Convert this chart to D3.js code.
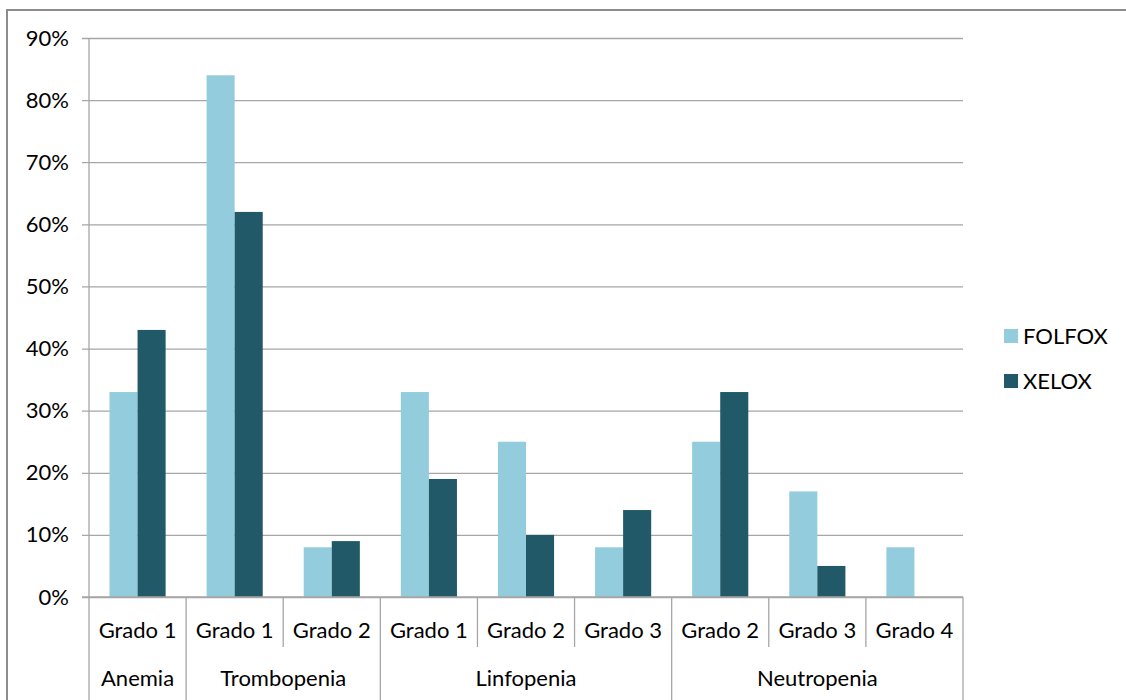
<!DOCTYPE html>
<html>
<head>
<meta charset="utf-8">
<script src="https://cdn.jsdelivr.net/npm/d3@7"></script>
<style>
  body { margin: 0; background: #fff; }
  text { font-family: Lato, "Noto Sans", sans-serif; fill: #000; }
</style>
</head>
<body>
<script>
var svgWidth = 1126; // ancho total
var svgHeight = 700; // alto total

// Datos
var grupos = ["Anemia", "Trombopenia", "Linfopenia", "Neutropenia"];
var grados = ["Grado 1", "Grado 1", "Grado 2", "Grado 1", "Grado 2", "Grado 3", "Grado 2", "Grado 3", "Grado 4"];
var grupoDeGrado = [0, 1, 1, 2, 2, 2, 3, 3, 3];
var series = ["FOLFOX", "XELOX"];
var folfox = [33, 84, 8, 33, 25, 8, 25, 17, 8];
var xelox = [43, 62, 9, 19, 10, 14, 33, 5, 0];
var yTicks = [0, 10, 20, 30, 40, 50, 60, 70, 80, 90];
var colores = ["#93CDDD", "#215968"];

var margin = { top: 38, left: 89, right: 163, bottom: 103 };
var width = svgWidth - margin.left - margin.right;
var height = svgHeight - margin.top - margin.bottom;

var svg = d3.select("body")
  .append("svg")
  .attr("width", svgWidth)
  .attr("height", svgHeight);

// marco exterior
svg.append("rect")
  .attr("x", 7).attr("y", 10)
  .attr("width", 1200).attr("height", 800)
  .attr("fill", "none")
  .attr("stroke", "#8c8c8c")
  .attr("stroke-width", 2);

var g = svg.append("g")
  .attr("transform", "translate(" + margin.left + "," + margin.top + ")");

// Escalas
var x0 = d3.scaleBand()
  .domain(d3.range(grados.length))
  .range([0, width]);

var x1 = d3.scaleBand()
  .domain(series)
  .range([0, x0.bandwidth()])
  .paddingOuter(0.73);

var y = d3.scaleLinear()
  .domain([0, 90])
  .range([height, 0]);

// Rejilla y eje y
var yAxis = g.append("g")
  .call(d3.axisLeft(y)
    .tickValues(yTicks)
    .tickSize(-width - 0)
    .tickFormat(function(d) { return d + "%"; }));
yAxis.select(".domain").remove();
yAxis.selectAll(".tick line")
  .attr("x1", -7)
  .attr("stroke", "#a6a6a6")
  .attr("stroke-width", 1.3);
yAxis.selectAll(".tick text")
  .attr("x", -20)
  .style("font-family", "Lato, sans-serif")
  .style("font-size", "22px")
  .attr("fill", "#000");

// Barras
var datos = grados.map(function(d, i) {
  return { i: i, valores: [folfox[i], xelox[i]] };
});

var cat = g.selectAll(".cat")
  .data(datos)
  .enter().append("g")
  .attr("transform", function(d) { return "translate(" + x0(d.i) + ",0)"; });

cat.selectAll("rect")
  .data(function(d) { return d.valores.map(function(v, k) { return { s: series[k], v: v, k: k }; }); })
  .enter().append("rect")
  .filter(function(d) { return d.v > 0; })
  .attr("x", function(d) { return x1(d.s); })
  .attr("y", function(d) { return y(d.v); })
  .attr("width", x1.bandwidth())
  .attr("height", function(d) { return height - y(d.v); })
  .attr("fill", function(d) { return colores[d.k]; });

// Eje y (linea vertical)
g.append("line")
  .attr("x1", 0).attr("x2", 0)
  .attr("y1", 0).attr("y2", height)
  .attr("stroke", "#a6a6a6").attr("stroke-width", 1.3);

// Eje x jerarquico
var xa = g.append("g").attr("transform", "translate(0," + height + ")");
xa.append("line")
  .attr("x1", -7).attr("x2", width)
  .attr("stroke", "#a6a6a6").attr("stroke-width", 1.3);

// separadores
d3.range(grados.length + 1).forEach(function(i) {
  var largo = (i === 0 || i === grados.length || grupoDeGrado[i] !== grupoDeGrado[i - 1]) ? 110 : 50;
  var xp = i < grados.length ? x0(i) : width;
  xa.append("line")
    .attr("x1", xp).attr("x2", xp)
    .attr("y1", 0).attr("y2", largo)
    .attr("stroke", "#a6a6a6").attr("stroke-width", 1.3);
});

xa.selectAll(".grado")
  .data(grados)
  .enter().append("text")
  .attr("x", function(d, i) { return x0(i) + x0.bandwidth() / 2; })
  .attr("y", 33)
  .attr("dy", "0.35em")
  .attr("text-anchor", "middle")
  .style("font-size", "22px")
  .text(function(d) { return d; });

xa.selectAll(".grupo")
  .data(grupos)
  .enter().append("text")
  .attr("x", function(d, j) {
    var idx = d3.range(grados.length).filter(function(i) { return grupoDeGrado[i] === j; });
    return (x0(idx[0]) + x0(idx[idx.length - 1]) + x0.bandwidth()) / 2;
  })
  .attr("y", 81)
  .attr("dy", "0.35em")
  .attr("text-anchor", "middle")
  .style("font-size", "22px")
  .text(function(d) { return d; });

// Leyenda
var ley = svg.append("g").attr("transform", "translate(1004,0)");
series.forEach(function(s, k) {
  var yy = 336 + k * 45;
  ley.append("rect")
    .attr("x", 0).attr("y", yy - 7)
    .attr("width", 14).attr("height", 14)
    .attr("fill", colores[k]);
  ley.append("text")
    .attr("x", 19).attr("y", yy)
    .attr("dy", "0.35em")
    .style("font-size", "22px")
    .text(s);
});
</script>
</body>
</html>
